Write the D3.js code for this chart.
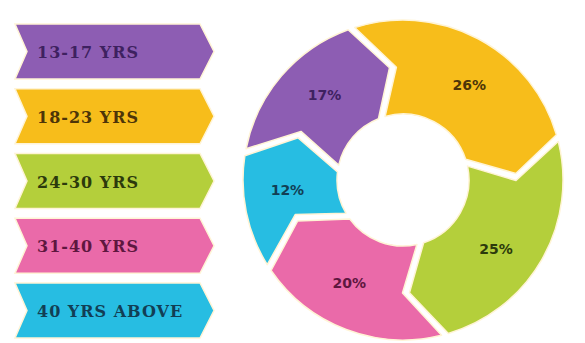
<!DOCTYPE html>
<html>
<head>
<meta charset="utf-8">
<script src="https://cdn.jsdelivr.net/npm/d3@7"></script>
<style>
  html, body { margin: 0; padding: 0; background: #ffffff; }
  svg { display: block; }
</style>
</head>
<body>
<svg id="chart" width="585" height="343"></svg>
<script>
// Age groups and their share of users
const categories = ["13-17 YRS", "18-23 YRS", "24-30 YRS", "31-40 YRS", "40 YRS ABOVE"];
const shares = [17, 26, 25, 20, 12];
const shareLabels = ["17%", "26%", "25%", "20%", "12%"];

const fillColors = ["#8d5db3", "#f7bd1b", "#b4cf3b", "#ea6aa9", "#27bde2"];
const textColors = ["#3e2160", "#4d3508", "#2c3a0c", "#5e173f", "#123f55"];

const svg = d3.select("#chart");

const color = d3.scaleOrdinal().domain(categories).range(fillColors);
const ink = d3.scaleOrdinal().domain(categories).range(textColors);

// ---- Legend: arrow-shaped banners on the left ----
const band = d3.scaleBand()
  .domain(categories)
  .range([24, 338])
  .paddingInner(0.15);

const bx0 = 15, bxBody = 200, bxTip = 214, notch = 12;

function bannerPath(y, h) {
  const m = y + h / 2;
  return `M${bx0},${y} L${bxBody},${y} L${bxTip},${m} L${bxBody},${y + h}` +
         ` L${bx0},${y + h} L${bx0 + notch},${m} Z`;
}

const legend = svg.append("g").attr("class", "legend");
const rows = legend.selectAll("g")
  .data(categories)
  .join("g");

rows.append("path")
  .attr("d", d => bannerPath(band(d), band.bandwidth()))
  .attr("fill", d => color(d))
  .attr("stroke", "#fff4d6")
  .attr("stroke-width", 1.5);

rows.append("text")
  .attr("x", 37)
  .attr("y", d => band(d) + band.bandwidth() / 2 + 1)
  .attr("dominant-baseline", "central")
  .attr("font-family", "'DejaVu Serif', serif")
  .attr("font-weight", "bold")
  .attr("font-size", 16)
  .attr("letter-spacing", 1)
  .attr("fill", d => ink(d))
  .text(d => d);

// ---- Donut made of arrow segments ----
const cx = 403, cy = 180;
const R = 160, r = 66, rM = (R + r) / 2;
const tip = 27;      // how far each segment's point reaches forward (px)
const halfGap = 3.5; // half of the white gap between segments (px)

const pie = d3.pie()
  .sort(null)
  .value(d => d)
  .startAngle(-80 * Math.PI / 180)
  .endAngle(280 * Math.PI / 180);

const arcs = pie(shares);

function pt(rad, a) {
  return [cx + rad * Math.sin(a), cy - rad * Math.cos(a)];
}

function segmentPath(a0, a1) {
  const oS = pt(R, a0 + halfGap / R);
  const mS = pt(rM, a0 + (tip + halfGap) / rM);
  const iS = pt(r, a0 + halfGap / r);
  const oE = pt(R, a1 - halfGap / R);
  const mE = pt(rM, a1 + (tip - halfGap) / rM);
  const iE = pt(r, a1 - halfGap / r);
  const large = (a1 - a0) > Math.PI ? 1 : 0;
  return `M${oS} A${R},${R} 0 ${large} 1 ${oE} L${mE} L${iE}` +
         ` A${r},${r} 0 ${large} 0 ${iS} L${mS} Z`;
}

const donut = svg.append("g").attr("class", "donut");

donut.selectAll("path")
  .data(arcs)
  .join("path")
  .attr("d", d => segmentPath(d.startAngle, d.endAngle))
  .attr("fill", (d, i) => color(categories[i]))
  .attr("stroke", "#fff4d6")
  .attr("stroke-width", 1.5)
  .attr("stroke-linejoin", "round");

const labelPos = d => pt(116, (d.startAngle + d.endAngle) / 2 + tip / 2 / rM);

donut.selectAll("text")
  .data(arcs)
  .join("text")
  .attr("x", d => labelPos(d)[0])
  .attr("y", d => labelPos(d)[1])
  .attr("text-anchor", "middle")
  .attr("dominant-baseline", "central")
  .attr("font-family", "'DejaVu Sans', sans-serif")
  .attr("font-weight", "bold")
  .attr("font-size", 14)
  .attr("fill", (d, i) => ink(categories[i]))
  .text((d, i) => shareLabels[i]);
</script>
</body>
</html>
